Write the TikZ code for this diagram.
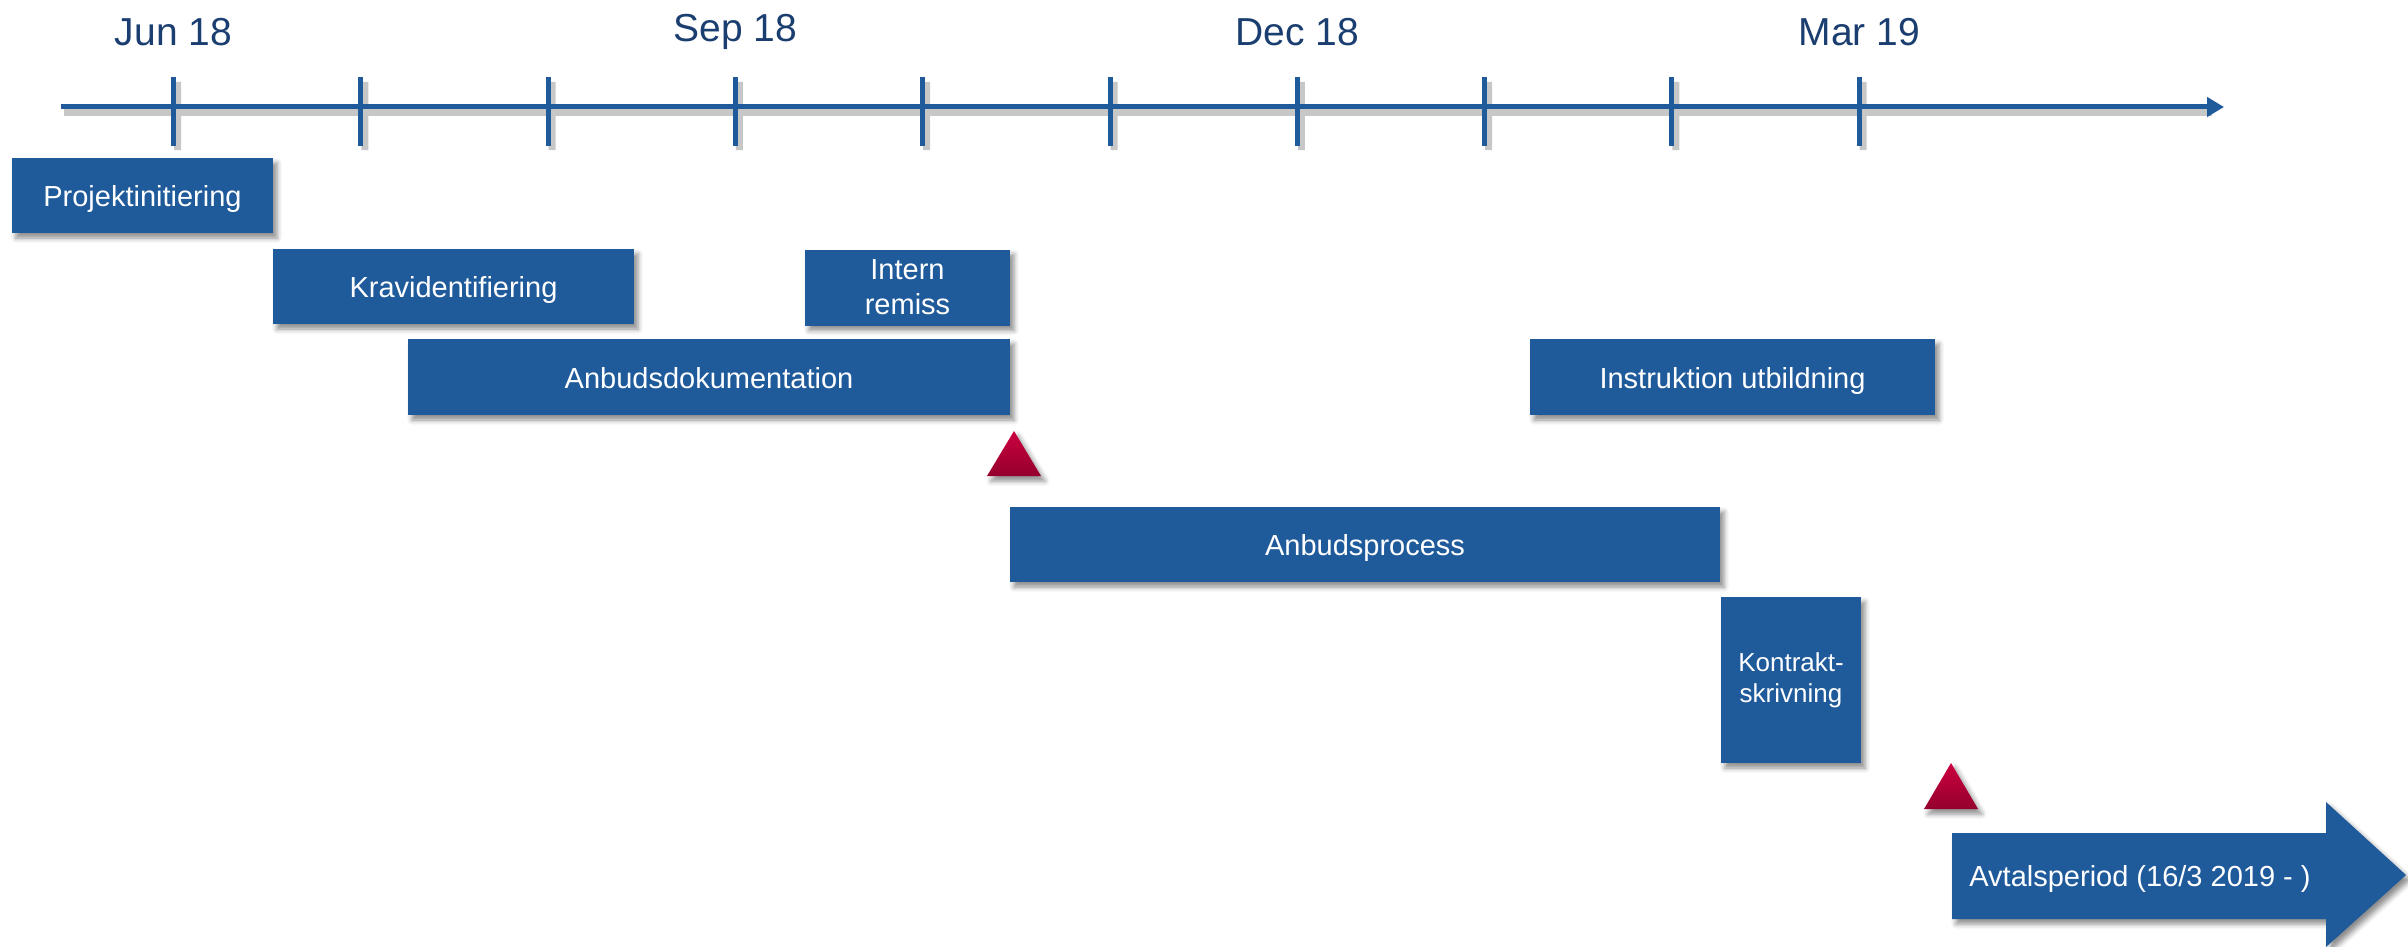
\documentclass[tikz,border=0pt]{standalone}
\usepackage{fontspec}
\setmainfont{Liberation Sans}
\usetikzlibrary{shadows.blur,arrows.meta}
\definecolor{barblue}{RGB}{31,90,155}
\definecolor{labelblue}{RGB}{27,62,112}
\definecolor{redtop}{RGB}{204,0,64}
\definecolor{redbot}{RGB}{148,0,44}
\tikzset{
  softshadow/.style={blur shadow={shadow xshift=4pt,shadow yshift=-5pt,shadow blur radius=5pt,shadow opacity=45}},
  bar/.style={fill=barblue,text=white,inner sep=0pt,align=center,softshadow,
    font=\fontsize{29}{35}\selectfont},
  oneline/.style={text height=22.5pt,text depth=0pt},
  datelabel/.style={text=labelblue,inner sep=0pt,font=\fontsize{39}{46}\selectfont},
  axisline/.style={draw=barblue,line width=5pt},
  ticktag/.style={draw=barblue,line width=5pt},
  milestone/.style={top color=redtop,bottom color=redbot,softshadow},
}
\begin{document}
\begin{tikzpicture}[x=1pt,y=-1pt]
\path[use as bounding box] (0,0) rectangle (2408,947);
% axis shadow
\begin{scope}[transparency group,opacity=0.22]
  \draw[black,line width=8pt] (64,112) -- (2212,112);
  \foreach \t in {173.5,360.8,548.1,735.4,922.7,1110,1297.3,1484.6,1671.9,1859.2}
    \draw[black,line width=7pt] (\t+4,82) -- (\t+4,150);
\end{scope}
% axis
\coordinate (axstart) at (61,107);
\coordinate (axend) at (2224,107);
\draw[axisline,-{Triangle[length=17pt,width=19pt]}] (axstart) -- (axend);
\foreach \t in {173.5,360.8,548.1,735.4,922.7,1110,1297.3,1484.6,1671.9,1859.2}
  \draw[ticktag] (\t,77) -- (\t,146);
% date labels
\node[datelabel] (jun) at (173.5,32) {Jun 18};
\node[datelabel] (sep) at (735.4,32) {Sep 18};
\node[datelabel] (dec) at (1297.3,32) {Dec 18};
\node[datelabel] (mar) at (1859.2,32) {Mar 19};
% bars
\node[bar,oneline,minimum width=261pt,minimum height=75pt] (proj) at (142.5,195.5) {Projektinitiering};
\node[bar,oneline,minimum width=361pt,minimum height=75pt] (krav) at (453.5,286.5) {Kravidentifiering};
\node[bar,minimum width=205pt,minimum height=76pt] (intern) at (907.5,287.5) {Intern\\remiss};
\node[bar,oneline,minimum width=602pt,minimum height=76pt] (anbdok) at (709,377) {Anbudsdokumentation};
\node[bar,oneline,minimum width=405pt,minimum height=76pt] (instr) at (1732.5,377) {Instruktion utbildning};
\node[bar,oneline,minimum width=710pt,minimum height=75pt] (anbproc) at (1365,544.5) {Anbudsprocess};
\node[bar,minimum width=140pt,minimum height=166pt,font=\fontsize{26}{31}\selectfont] (kontr) at (1791,680) {Kontrakt-\\skrivning};
% milestones
\shade[milestone] (987,476) -- (1014,431) -- (1041,476) -- cycle;
\shade[milestone] (1924,809) -- (1951,763) -- (1978,809) -- cycle;
% Avtalsperiod arrow
\fill[barblue,softshadow] (1952,833) -- (2326,833) -- (2326,802) -- (2406,875)
  -- (2326,947) -- (2326,919) -- (1952,919) -- cycle;
\node[text=white,inner sep=0pt,text height=21pt,text depth=0pt,font=\fontsize{29}{35}\selectfont] (avtal) at (2140,876) {Avtalsperiod (16/3 2019 - )};
\end{tikzpicture}
\end{document}
